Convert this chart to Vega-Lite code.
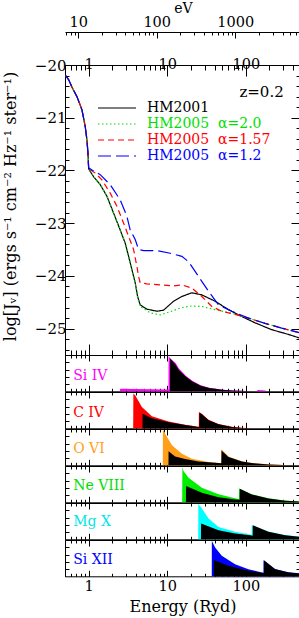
{
"$schema":"https://vega.github.io/schema/vega-lite/v6.json",
"padding":{"left":1,"right":1,"top":1,"bottom":1},
"background":"white",
"config":{
 "font":"DejaVu Serif",
 "view":{"stroke":"black","strokeWidth":1},
 "axis":{"grid":false,"domain":false,"tickColor":"black","tickWidth":1,"labelColor":"black","titleColor":"black","labelFont":"DejaVu Serif","titleFont":"DejaVu Serif","labelFontSize":14.5,"titleFontWeight":"normal","labelOverlap":false,"labelFlush":false}
},
"datasets":{
 "spectra":[
  {"s":"HM2001","E":0.504,"J":-20.19},{"s":"HM2001","E":0.557,"J":-20.28},{"s":"HM2001","E":0.613,"J":-20.42},{"s":"HM2001","E":0.71,"J":-20.6},{"s":"HM2001","E":0.822,"J":-20.85},{"s":"HM2001","E":0.905,"J":-21.17},{"s":"HM2001","E":0.951,"J":-21.42},{"s":"HM2001","E":0.98,"J":-21.67},
  {"s":"HM2001","E":1.0,"J":-21.97},{"s":"HM2001","E":1.158,"J":-22.12},{"s":"HM2001","E":1.405,"J":-22.27},{"s":"HM2001","E":1.709,"J":-22.49},{"s":"HM2001","E":2.079,"J":-22.81},{"s":"HM2001","E":2.522,"J":-23.13},{"s":"HM2001","E":2.92,"J":-23.38},{"s":"HM2001","E":3.226,"J":-23.63},{"s":"HM2001","E":3.552,"J":-23.88},{"s":"HM2001","E":3.913,"J":-24.13},{"s":"HM2001","E":4.198,"J":-24.39},{"s":"HM2001","E":4.53,"J":-24.55},{"s":"HM2001","E":5.512,"J":-24.63},{"s":"HM2001","E":7.386,"J":-24.67},{"s":"HM2001","E":8.987,"J":-24.65},{"s":"HM2001","E":12.04,"J":-24.48},{"s":"HM2001","E":15.36,"J":-24.39},{"s":"HM2001","E":20.58,"J":-24.32},{"s":"HM2001","E":27.57,"J":-24.36},{"s":"HM2001","E":40.71,"J":-24.48},{"s":"HM2001","E":60.26,"J":-24.64},{"s":"HM2001","E":88.92,"J":-24.77},{"s":"HM2001","E":131.3,"J":-24.89},{"s":"HM2001","E":214.1,"J":-25.02},{"s":"HM2001","E":349.2,"J":-25.11},{"s":"HM2001","E":490,"J":-25.18},
  {"s":"HM2005\u00a0 α=2.0","E":0.504,"J":-20.19},{"s":"HM2005\u00a0 α=2.0","E":0.557,"J":-20.28},{"s":"HM2005\u00a0 α=2.0","E":0.613,"J":-20.42},{"s":"HM2005\u00a0 α=2.0","E":0.71,"J":-20.6},{"s":"HM2005\u00a0 α=2.0","E":0.822,"J":-20.85},{"s":"HM2005\u00a0 α=2.0","E":0.905,"J":-21.17},{"s":"HM2005\u00a0 α=2.0","E":0.951,"J":-21.42},{"s":"HM2005\u00a0 α=2.0","E":0.98,"J":-21.67},
  {"s":"HM2005\u00a0 α=2.0","E":1.0,"J":-21.97},{"s":"HM2005\u00a0 α=2.0","E":1.158,"J":-22.12},{"s":"HM2005\u00a0 α=2.0","E":1.405,"J":-22.27},{"s":"HM2005\u00a0 α=2.0","E":1.709,"J":-22.49},{"s":"HM2005\u00a0 α=2.0","E":2.079,"J":-22.81},{"s":"HM2005\u00a0 α=2.0","E":2.522,"J":-23.13},{"s":"HM2005\u00a0 α=2.0","E":2.92,"J":-23.38},{"s":"HM2005\u00a0 α=2.0","E":3.226,"J":-23.63},{"s":"HM2005\u00a0 α=2.0","E":3.552,"J":-23.88},{"s":"HM2005\u00a0 α=2.0","E":3.913,"J":-24.13},{"s":"HM2005\u00a0 α=2.0","E":4.198,"J":-24.4},{"s":"HM2005\u00a0 α=2.0","E":4.53,"J":-24.58},{"s":"HM2005\u00a0 α=2.0","E":6.07,"J":-24.7},{"s":"HM2005\u00a0 α=2.0","E":8.137,"J":-24.74},{"s":"HM2005\u00a0 α=2.0","E":10.9,"J":-24.68},{"s":"HM2005\u00a0 α=2.0","E":15.36,"J":-24.6},{"s":"HM2005\u00a0 α=2.0","E":20.58,"J":-24.57},{"s":"HM2005\u00a0 α=2.0","E":27.57,"J":-24.58},{"s":"HM2005\u00a0 α=2.0","E":40.71,"J":-24.64},{"s":"HM2005\u00a0 α=2.0","E":66.37,"J":-24.71},{"s":"HM2005\u00a0 α=2.0","E":108.2,"J":-24.8},{"s":"HM2005\u00a0 α=2.0","E":175.9,"J":-24.9},{"s":"HM2005\u00a0 α=2.0","E":286.9,"J":-24.99},{"s":"HM2005\u00a0 α=2.0","E":490,"J":-25.08},
  {"s":"HM2005\u00a0 α=1.57","E":0.504,"J":-20.19},{"s":"HM2005\u00a0 α=1.57","E":0.557,"J":-20.28},{"s":"HM2005\u00a0 α=1.57","E":0.613,"J":-20.42},{"s":"HM2005\u00a0 α=1.57","E":0.71,"J":-20.6},{"s":"HM2005\u00a0 α=1.57","E":0.822,"J":-20.85},{"s":"HM2005\u00a0 α=1.57","E":0.905,"J":-21.17},{"s":"HM2005\u00a0 α=1.57","E":0.951,"J":-21.42},{"s":"HM2005\u00a0 α=1.57","E":0.98,"J":-21.67},
  {"s":"HM2005\u00a0 α=1.57","E":1.0,"J":-21.96},{"s":"HM2005\u00a0 α=1.57","E":1.213,"J":-22.05},{"s":"HM2005\u00a0 α=1.57","E":1.476,"J":-22.18},{"s":"HM2005\u00a0 α=1.57","E":1.882,"J":-22.43},{"s":"HM2005\u00a0 α=1.57","E":2.29,"J":-22.68},{"s":"HM2005\u00a0 α=1.57","E":2.786,"J":-23.0},{"s":"HM2005\u00a0 α=1.57","E":3.226,"J":-23.25},{"s":"HM2005\u00a0 α=1.57","E":3.734,"J":-23.5},{"s":"HM2005\u00a0 α=1.57","E":4.113,"J":-23.82},{"s":"HM2005\u00a0 α=1.57","E":4.323,"J":-24.01},{"s":"HM2005\u00a0 α=1.57","E":4.53,"J":-24.13},{"s":"HM2005\u00a0 α=1.57","E":5.512,"J":-24.15},{"s":"HM2005\u00a0 α=1.57","E":8.137,"J":-24.17},{"s":"HM2005\u00a0 α=1.57","E":12.04,"J":-24.19},{"s":"HM2005\u00a0 α=1.57","E":15.36,"J":-24.17},{"s":"HM2005\u00a0 α=1.57","E":20.58,"J":-24.23},{"s":"HM2005\u00a0 α=1.57","E":27.57,"J":-24.39},{"s":"HM2005\u00a0 α=1.57","E":36.96,"J":-24.58},{"s":"HM2005\u00a0 α=1.57","E":49.53,"J":-24.67},{"s":"HM2005\u00a0 α=1.57","E":73.11,"J":-24.73},{"s":"HM2005\u00a0 α=1.57","E":108.2,"J":-24.8},{"s":"HM2005\u00a0 α=1.57","E":175.9,"J":-24.9},{"s":"HM2005\u00a0 α=1.57","E":286.9,"J":-24.99},{"s":"HM2005\u00a0 α=1.57","E":490,"J":-25.08},
  {"s":"HM2005\u00a0 α=1.2","E":0.504,"J":-20.19},{"s":"HM2005\u00a0 α=1.2","E":0.557,"J":-20.28},{"s":"HM2005\u00a0 α=1.2","E":0.613,"J":-20.42},{"s":"HM2005\u00a0 α=1.2","E":0.71,"J":-20.6},{"s":"HM2005\u00a0 α=1.2","E":0.822,"J":-20.85},{"s":"HM2005\u00a0 α=1.2","E":0.905,"J":-21.17},{"s":"HM2005\u00a0 α=1.2","E":0.951,"J":-21.42},{"s":"HM2005\u00a0 α=1.2","E":0.98,"J":-21.67},
  {"s":"HM2005\u00a0 α=1.2","E":1.0,"J":-21.95},{"s":"HM2005\u00a0 α=1.2","E":1.1,"J":-21.99},{"s":"HM2005\u00a0 α=1.2","E":1.405,"J":-22.08},{"s":"HM2005\u00a0 α=1.2","E":1.882,"J":-22.27},{"s":"HM2005\u00a0 α=1.2","E":2.522,"J":-22.56},{"s":"HM2005\u00a0 α=1.2","E":3.069,"J":-22.87},{"s":"HM2005\u00a0 α=1.2","E":3.381,"J":-23.13},{"s":"HM2005\u00a0 α=1.2","E":3.913,"J":-23.31},{"s":"HM2005\u00a0 α=1.2","E":4.323,"J":-23.5},{"s":"HM2005\u00a0 α=1.2","E":5.004,"J":-23.52},{"s":"HM2005\u00a0 α=1.2","E":7.386,"J":-23.52},{"s":"HM2005\u00a0 α=1.2","E":10.9,"J":-23.57},{"s":"HM2005\u00a0 α=1.2","E":15.36,"J":-23.63},{"s":"HM2005\u00a0 α=1.2","E":18.68,"J":-23.73},{"s":"HM2005\u00a0 α=1.2","E":25.03,"J":-24.01},{"s":"HM2005\u00a0 α=1.2","E":33.56,"J":-24.29},{"s":"HM2005\u00a0 α=1.2","E":44.98,"J":-24.55},{"s":"HM2005\u00a0 α=1.2","E":66.37,"J":-24.67},{"s":"HM2005\u00a0 α=1.2","E":108.2,"J":-24.8},{"s":"HM2005\u00a0 α=1.2","E":175.9,"J":-24.9},{"s":"HM2005\u00a0 α=1.2","E":286.9,"J":-24.99},{"s":"HM2005\u00a0 α=1.2","E":490,"J":-25.08}
 ],
 "panels":[
  {"p":"Si IV","k":"c","E":2.5,"v":0},{"p":"Si IV","k":"c","E":2.52,"v":0.07},{"p":"Si IV","k":"c","E":10.38,"v":0.05},{"p":"Si IV","k":"c","E":10.42,"v":0.97},{"p":"Si IV","k":"c","E":11.0,"v":0.9},{"p":"Si IV","k":"c","E":12.8,"v":0.78},{"p":"Si IV","k":"c","E":14.1,"v":0.63},{"p":"Si IV","k":"c","E":17.2,"v":0.43},{"p":"Si IV","k":"c","E":20.9,"v":0.29},{"p":"Si IV","k":"c","E":26.7,"v":0.17},{"p":"Si IV","k":"c","E":34.2,"v":0.1},{"p":"Si IV","k":"c","E":50.5,"v":0.045},{"p":"Si IV","k":"c","E":67.8,"v":0.025},{"p":"Si IV","k":"c","E":100,"v":0.008},{"p":"Si IV","k":"c","E":139,"v":0},{"p":"Si IV","k":"c","E":141,"v":0.035},{"p":"Si IV","k":"c","E":178,"v":0.025},{"p":"Si IV","k":"c","E":180,"v":0},
  {"p":"Si IV","k":"k","E":10.85,"v":0},{"p":"Si IV","k":"k","E":10.9,"v":0.91},{"p":"Si IV","k":"k","E":12.8,"v":0.73},{"p":"Si IV","k":"k","E":14.1,"v":0.59},{"p":"Si IV","k":"k","E":17.2,"v":0.41},{"p":"Si IV","k":"k","E":20.9,"v":0.27},{"p":"Si IV","k":"k","E":26.7,"v":0.155},{"p":"Si IV","k":"k","E":34.2,"v":0.093},{"p":"Si IV","k":"k","E":50.5,"v":0.04},{"p":"Si IV","k":"k","E":67.8,"v":0.02},{"p":"Si IV","k":"k","E":100,"v":0.005},{"p":"Si IV","k":"k","E":150,"v":0},
  {"p":"C IV","k":"c","E":3.69,"v":0},{"p":"C IV","k":"c","E":3.71,"v":0.96},{"p":"C IV","k":"c","E":3.91,"v":0.91},{"p":"C IV","k":"c","E":4.76,"v":0.59},{"p":"C IV","k":"c","E":6.38,"v":0.33},{"p":"C IV","k":"c","E":10.4,"v":0.19},{"p":"C IV","k":"c","E":16.9,"v":0.1},{"p":"C IV","k":"c","E":25.2,"v":0.04},{"p":"C IV","k":"c","E":25.3,"v":0.45},{"p":"C IV","k":"c","E":27.6,"v":0.4},{"p":"C IV","k":"c","E":33.6,"v":0.235},{"p":"C IV","k":"c","E":45,"v":0.12},{"p":"C IV","k":"c","E":66.4,"v":0.04},{"p":"C IV","k":"c","E":89,"v":0.013},{"p":"C IV","k":"c","E":120,"v":0.003},{"p":"C IV","k":"c","E":150,"v":0},
  {"p":"C IV","k":"k","E":4.84,"v":0},{"p":"C IV","k":"k","E":4.86,"v":0.4},{"p":"C IV","k":"k","E":6.38,"v":0.275},{"p":"C IV","k":"k","E":10.4,"v":0.17},{"p":"C IV","k":"k","E":16.9,"v":0.09},{"p":"C IV","k":"k","E":25.6,"v":0.03},{"p":"C IV","k":"k","E":25.7,"v":0.43},{"p":"C IV","k":"k","E":27.6,"v":0.386},{"p":"C IV","k":"k","E":33.6,"v":0.22},{"p":"C IV","k":"k","E":45,"v":0.11},{"p":"C IV","k":"k","E":66.4,"v":0.036},{"p":"C IV","k":"k","E":89,"v":0.01},{"p":"C IV","k":"k","E":120,"v":0.002},{"p":"C IV","k":"k","E":150,"v":0},
  {"p":"O VI","k":"c","E":8.79,"v":0},{"p":"O VI","k":"c","E":8.81,"v":0.99},{"p":"O VI","k":"c","E":9.42,"v":0.87},{"p":"O VI","k":"c","E":11.5,"v":0.55},{"p":"O VI","k":"c","E":15.4,"v":0.32},{"p":"O VI","k":"c","E":20.6,"v":0.18},{"p":"O VI","k":"c","E":33.6,"v":0.09},{"p":"O VI","k":"c","E":48.6,"v":0.058},{"p":"O VI","k":"c","E":48.8,"v":0.44},{"p":"O VI","k":"c","E":60.3,"v":0.24},{"p":"O VI","k":"c","E":89,"v":0.115},{"p":"O VI","k":"c","E":119,"v":0.065},{"p":"O VI","k":"c","E":194,"v":0.028},{"p":"O VI","k":"c","E":300,"v":0.01},{"p":"O VI","k":"c","E":490,"v":0.003},
  {"p":"O VI","k":"k","E":10.38,"v":0},{"p":"O VI","k":"k","E":10.4,"v":0.39},{"p":"O VI","k":"k","E":12.6,"v":0.245},{"p":"O VI","k":"k","E":16.9,"v":0.175},{"p":"O VI","k":"k","E":25,"v":0.105},{"p":"O VI","k":"k","E":45,"v":0.06},{"p":"O VI","k":"k","E":48.9,"v":0.055},{"p":"O VI","k":"k","E":49.1,"v":0.41},{"p":"O VI","k":"k","E":60.3,"v":0.226},{"p":"O VI","k":"k","E":89,"v":0.107},{"p":"O VI","k":"k","E":119,"v":0.06},{"p":"O VI","k":"k","E":194,"v":0.025},{"p":"O VI","k":"k","E":300,"v":0.008},{"p":"O VI","k":"k","E":490,"v":0.002},
  {"p":"Ne VIII","k":"c","E":15.5,"v":0},{"p":"Ne VIII","k":"c","E":15.6,"v":0.98},{"p":"Ne VIII","k":"c","E":16.1,"v":0.86},{"p":"Ne VIII","k":"c","E":18.7,"v":0.675},{"p":"Ne VIII","k":"c","E":27.6,"v":0.4},{"p":"Ne VIII","k":"c","E":45,"v":0.22},{"p":"Ne VIII","k":"c","E":73.1,"v":0.11},{"p":"Ne VIII","k":"c","E":82.0,"v":0.09},{"p":"Ne VIII","k":"c","E":82.2,"v":0.38},{"p":"Ne VIII","k":"c","E":119,"v":0.22},{"p":"Ne VIII","k":"c","E":194,"v":0.11},{"p":"Ne VIII","k":"c","E":316,"v":0.05},{"p":"Ne VIII","k":"c","E":490,"v":0.02},
  {"p":"Ne VIII","k":"k","E":17.3,"v":0},{"p":"Ne VIII","k":"k","E":17.4,"v":0.45},{"p":"Ne VIII","k":"k","E":27.6,"v":0.26},{"p":"Ne VIII","k":"k","E":45,"v":0.14},{"p":"Ne VIII","k":"k","E":73.1,"v":0.08},{"p":"Ne VIII","k":"k","E":83.7,"v":0.07},{"p":"Ne VIII","k":"k","E":83.9,"v":0.37},{"p":"Ne VIII","k":"k","E":119,"v":0.215},{"p":"Ne VIII","k":"k","E":194,"v":0.105},{"p":"Ne VIII","k":"k","E":316,"v":0.045},{"p":"Ne VIII","k":"k","E":490,"v":0.018},
  {"p":"Mg X","k":"c","E":24.8,"v":0},{"p":"Mg X","k":"c","E":24.9,"v":0.98},{"p":"Mg X","k":"c","E":27.6,"v":0.85},{"p":"Mg X","k":"c","E":33.6,"v":0.57},{"p":"Mg X","k":"c","E":45,"v":0.34},{"p":"Mg X","k":"c","E":73.1,"v":0.21},{"p":"Mg X","k":"c","E":113.5,"v":0.13},{"p":"Mg X","k":"c","E":118.8,"v":0.125},{"p":"Mg X","k":"c","E":119,"v":0.39},{"p":"Mg X","k":"c","E":194,"v":0.215},{"p":"Mg X","k":"c","E":316,"v":0.12},{"p":"Mg X","k":"c","E":490,"v":0.075},
  {"p":"Mg X","k":"k","E":26.9,"v":0},{"p":"Mg X","k":"k","E":27.0,"v":0.435},{"p":"Mg X","k":"k","E":45,"v":0.25},{"p":"Mg X","k":"k","E":73.1,"v":0.16},{"p":"Mg X","k":"k","E":113.5,"v":0.115},{"p":"Mg X","k":"k","E":122.6,"v":0.1},{"p":"Mg X","k":"k","E":122.8,"v":0.39},{"p":"Mg X","k":"k","E":194,"v":0.21},{"p":"Mg X","k":"k","E":316,"v":0.115},{"p":"Mg X","k":"k","E":490,"v":0.07},
  {"p":"Si XII","k":"c","E":36.9,"v":0},{"p":"Si XII","k":"c","E":37.0,"v":0.98},{"p":"Si XII","k":"c","E":40.7,"v":0.79},{"p":"Si XII","k":"c","E":49.5,"v":0.565},{"p":"Si XII","k":"c","E":73.1,"v":0.33},{"p":"Si XII","k":"c","E":108,"v":0.196},{"p":"Si XII","k":"c","E":160,"v":0.105},{"p":"Si XII","k":"c","E":167.8,"v":0.1},{"p":"Si XII","k":"c","E":168,"v":0.44},{"p":"Si XII","k":"c","E":236,"v":0.2},{"p":"Si XII","k":"c","E":349,"v":0.11},{"p":"Si XII","k":"c","E":490,"v":0.08},
  {"p":"Si XII","k":"k","E":39.1,"v":0},{"p":"Si XII","k":"k","E":39.2,"v":0.45},{"p":"Si XII","k":"k","E":60.3,"v":0.29},{"p":"Si XII","k":"k","E":108,"v":0.15},{"p":"Si XII","k":"k","E":160,"v":0.095},{"p":"Si XII","k":"k","E":170.8,"v":0.09},{"p":"Si XII","k":"k","E":171,"v":0.44},{"p":"Si XII","k":"k","E":236,"v":0.196},{"p":"Si XII","k":"k","E":349,"v":0.105},{"p":"Si XII","k":"k","E":490,"v":0.077}
 ],
 "labels":[
  {"p":"Si IV","E":0.635,"v":0.32},{"p":"C IV","E":0.635,"v":0.31},{"p":"O VI","E":0.635,"v":0.33},{"p":"Ne VIII","E":0.635,"v":0.34},{"p":"Mg X","E":0.635,"v":0.38},{"p":"Si XII","E":0.635,"v":0.34}
 ]
},
"spacing":0,
"bounds":"flush",
"vconcat":[
 {
  "width":235,"height":33,
  "view":{"stroke":null},
  "data":{"values":[{"eV":100}]},
  "mark":{"type":"point","opacity":0},
  "encoding":{"x":{"field":"eV","type":"quantitative","scale":{"type":"log","domain":[6.8,6664],"nice":false},
   "axis":{"orient":"top","domain":true,"domainColor":"black","domainWidth":1,"values":[7,8,9,10,20,30,40,50,60,70,80,90,100,200,300,400,500,600,700,800,900,1000,2000,3000,4000,5000,6000],
    "labelExpr":"indexof([10,100,1000],datum.value)>=0 ? toString(datum.value) : ''",
    "tickSize":{"condition":{"test":"indexof([10,100,1000],datum.value)>=0","value":-6},"value":-3},
    "labelPadding":9,"title":"eV","titleFontSize":14,"titleFontWeight":"normal","titleX":118,"titleY":-20,"titleAlign":"center","titleBaseline":"alphabetic"}}}
 },
 {
  "width":235,"height":290,
  "layer":[
   {"data":{"name":"spectra"},
    "mark":{"type":"line","strokeWidth":1.2,"clip":true},
    "encoding":{
     "x":{"field":"E","type":"quantitative","scale":{"type":"log","domain":[0.5,490],"nice":false},
      "axis":{"orient":"bottom","values":[0.5,0.6,0.7,0.8,0.9,1,2,3,4,5,6,7,8,9,10,20,30,40,50,60,70,80,90,100,200,300,400],"labels":false,"title":null,
       "tickSize":{"condition":{"test":"indexof([1,10,100],datum.value)>=0","value":-11},"value":-5}}},
     "y":{"field":"J","type":"quantitative","scale":{"domain":[-25.5,-20],"nice":false,"zero":false},
      "axis":{"orient":"left","values":[-25.4,-25.2,-25,-24.8,-24.6,-24.4,-24.2,-24,-23.8,-23.6,-23.4,-23.2,-23,-22.8,-22.6,-22.4,-22.2,-22,-21.8,-21.6,-21.4,-21.2,-21,-20.8,-20.6,-20.4,-20.2,-20],
       "labelExpr":"datum.value == round(datum.value) ? '−' + toString(abs(datum.value)) : ''","labelFontSize":15,
       "tickSize":{"condition":{"test":"datum.value == round(datum.value)","value":-9},"value":-4},
       "labelPadding":8,"title":"log[Jᵥ] (ergs s⁻¹ cm⁻² Hz⁻¹ ster⁻¹)","titleFontSize":16,"titleFontWeight":"normal","titlePadding":16,"titleY":141}},
     "color":{"field":"s","type":"nominal","scale":{"domain":["HM2001","HM2005\u00a0 α=2.0","HM2005\u00a0 α=1.57","HM2005\u00a0 α=1.2"],"range":["#000000","#00e000","#ff0000","#0000ff"]},
      "legend":{"orient":"none","legendX":32,"legendY":68,"title":null,"symbolType":"stroke","symbolSize":1444,"symbolStrokeWidth":1.2,"labelFontSize":14,"labelOffset":10,"clipHeight":16,"rowPadding":0,"padding":0,
       "labelColor":{"expr":"indexof(datum.value,'2.0')>=0 ? '#00e000' : indexof(datum.value,'1.57')>=0 ? '#ff0000' : indexof(datum.value,'1.2')>=0 ? '#0000ff' : '#000000'"}}},
     "strokeDash":{"field":"s","type":"nominal","scale":{"domain":["HM2001","HM2005\u00a0 α=2.0","HM2005\u00a0 α=1.57","HM2005\u00a0 α=1.2"],"range":[[1,0],[1.5,2.5],[6,4],[13,5]]},
      "legend":{"orient":"none","legendX":32,"legendY":68,"title":null,"symbolType":"stroke","symbolSize":1444,"symbolStrokeWidth":1.2,"labelFontSize":14,"labelOffset":10,"clipHeight":16,"rowPadding":0,"padding":0,
       "labelColor":{"expr":"indexof(datum.value,'2.0')>=0 ? '#00e000' : indexof(datum.value,'1.57')>=0 ? '#ff0000' : indexof(datum.value,'1.2')>=0 ? '#0000ff' : '#000000'"}}}
    }},
   {"data":{"values":[{"E":304,"J":-20.61,"t":"z=0.2"}]},
    "mark":{"type":"text","align":"right","baseline":"alphabetic","fontSize":15,"color":"black"},
    "encoding":{
     "x":{"field":"E","type":"quantitative","scale":{"type":"log","domain":[0.5,490],"nice":false},
      "axis":{"orient":"top","values":[0.5,0.6,0.7,0.8,0.9,1,2,3,4,5,6,7,8,9,10,20,30,40,50,60,70,80,90,100,200,300,400],
       "labelExpr":"indexof([1,10,100],datum.value)>=0 ? toString(datum.value) : ''","title":null,"labelPadding":5,
       "tickSize":{"condition":{"test":"indexof([1,10,100],datum.value)>=0","value":-11},"value":-5}}},
     "y":{"field":"J","type":"quantitative","scale":{"domain":[-25.5,-20],"nice":false,"zero":false},
      "axis":{"orient":"right","values":[-25.4,-25.2,-25,-24.8,-24.6,-24.4,-24.2,-24,-23.8,-23.6,-23.4,-23.2,-23,-22.8,-22.6,-22.4,-22.2,-22,-21.8,-21.6,-21.4,-21.2,-21,-20.8,-20.6,-20.4,-20.2,-20],"labels":false,"title":null,
       "tickSize":{"condition":{"test":"datum.value == round(datum.value)","value":-9},"value":-4}}},
     "text":{"field":"t"}
    }}
  ],
  "resolve":{"axis":{"x":"independent","y":"independent"}}
 },
 {
  "width":235,"height":36.3,
  "layer":[
   {"data":{"name":"panels"},"transform":[{"filter":"datum.p=='Si IV' && datum.k=='c'"}],"mark":{"type":"area","color":"#ff00ff"},
    "encoding":{"x":{"field":"E","type":"quantitative","scale":{"type":"log","domain":[0.5,490],"nice":false},"axis":{"orient":"bottom","values":[0.5,0.6,0.7,0.8,0.9,1,2,3,4,5,6,7,8,9,10,20,30,40,50,60,70,80,90,100,200,300,400],"labels":false,"title":null,"tickSize":{"condition":{"test":"indexof([1,10,100],datum.value)>=0","value":-6},"value":-3}}},
     "y":{"field":"v","type":"quantitative","scale":{"domain":[0,1],"nice":false},"axis":{"orient":"left","values":[0.2,0.4,0.6,0.8],"labels":false,"title":null,"tickSize":-4}}}},
   {"data":{"name":"panels"},"transform":[{"filter":"datum.p=='Si IV' && datum.k=='k'"}],"mark":{"type":"area","color":"#000000"},
    "encoding":{"x":{"field":"E","type":"quantitative","scale":{"type":"log","domain":[0.5,490],"nice":false},"axis":{"orient":"top","values":[0.5,0.6,0.7,0.8,0.9,1,2,3,4,5,6,7,8,9,10,20,30,40,50,60,70,80,90,100,200,300,400],"labels":false,"title":null,"tickSize":{"condition":{"test":"indexof([1,10,100],datum.value)>=0","value":-6},"value":-3}}},
     "y":{"field":"v","type":"quantitative","scale":{"domain":[0,1],"nice":false},"axis":{"orient":"right","values":[0.2,0.4,0.6,0.8],"labels":false,"title":null,"tickSize":-4}}}},
   {"data":{"name":"labels"},"transform":[{"filter":"datum.p=='Si IV'"}],"mark":{"type":"text","align":"left","baseline":"alphabetic","fontSize":14,"color":"#ff00ff"},
    "encoding":{"x":{"field":"E","type":"quantitative","scale":{"type":"log","domain":[0.5,490],"nice":false},"axis":null},"y":{"field":"v","type":"quantitative","scale":{"domain":[0,1],"nice":false},"axis":null},"text":{"field":"p"}}}
  ],
  "resolve":{"axis":{"x":"independent","y":"independent"}}
 },
 {
  "width":235,"height":36.3,
  "layer":[
   {"data":{"name":"panels"},"transform":[{"filter":"datum.p=='C IV' && datum.k=='c'"}],"mark":{"type":"area","color":"#ff0000"},
    "encoding":{"x":{"field":"E","type":"quantitative","scale":{"type":"log","domain":[0.5,490],"nice":false},"axis":{"orient":"bottom","values":[0.5,0.6,0.7,0.8,0.9,1,2,3,4,5,6,7,8,9,10,20,30,40,50,60,70,80,90,100,200,300,400],"labels":false,"title":null,"tickSize":{"condition":{"test":"indexof([1,10,100],datum.value)>=0","value":-6},"value":-3}}},
     "y":{"field":"v","type":"quantitative","scale":{"domain":[0,1],"nice":false},"axis":{"orient":"left","values":[0.2,0.4,0.6,0.8],"labels":false,"title":null,"tickSize":-4}}}},
   {"data":{"name":"panels"},"transform":[{"filter":"datum.p=='C IV' && datum.k=='k'"}],"mark":{"type":"area","color":"#000000"},
    "encoding":{"x":{"field":"E","type":"quantitative","scale":{"type":"log","domain":[0.5,490],"nice":false},"axis":{"orient":"top","values":[0.5,0.6,0.7,0.8,0.9,1,2,3,4,5,6,7,8,9,10,20,30,40,50,60,70,80,90,100,200,300,400],"labels":false,"title":null,"tickSize":{"condition":{"test":"indexof([1,10,100],datum.value)>=0","value":-6},"value":-3}}},
     "y":{"field":"v","type":"quantitative","scale":{"domain":[0,1],"nice":false},"axis":{"orient":"right","values":[0.2,0.4,0.6,0.8],"labels":false,"title":null,"tickSize":-4}}}},
   {"data":{"name":"labels"},"transform":[{"filter":"datum.p=='C IV'"}],"mark":{"type":"text","align":"left","baseline":"alphabetic","fontSize":14,"color":"#ff0000"},
    "encoding":{"x":{"field":"E","type":"quantitative","scale":{"type":"log","domain":[0.5,490],"nice":false},"axis":null},"y":{"field":"v","type":"quantitative","scale":{"domain":[0,1],"nice":false},"axis":null},"text":{"field":"p"}}}
  ],
  "resolve":{"axis":{"x":"independent","y":"independent"}}
 },
 {
  "width":235,"height":36.3,
  "layer":[
   {"data":{"name":"panels"},"transform":[{"filter":"datum.p=='O VI' && datum.k=='c'"}],"mark":{"type":"area","color":"#ff9f1a"},
    "encoding":{"x":{"field":"E","type":"quantitative","scale":{"type":"log","domain":[0.5,490],"nice":false},"axis":{"orient":"bottom","values":[0.5,0.6,0.7,0.8,0.9,1,2,3,4,5,6,7,8,9,10,20,30,40,50,60,70,80,90,100,200,300,400],"labels":false,"title":null,"tickSize":{"condition":{"test":"indexof([1,10,100],datum.value)>=0","value":-6},"value":-3}}},
     "y":{"field":"v","type":"quantitative","scale":{"domain":[0,1],"nice":false},"axis":{"orient":"left","values":[0.2,0.4,0.6,0.8],"labels":false,"title":null,"tickSize":-4}}}},
   {"data":{"name":"panels"},"transform":[{"filter":"datum.p=='O VI' && datum.k=='k'"}],"mark":{"type":"area","color":"#000000"},
    "encoding":{"x":{"field":"E","type":"quantitative","scale":{"type":"log","domain":[0.5,490],"nice":false},"axis":{"orient":"top","values":[0.5,0.6,0.7,0.8,0.9,1,2,3,4,5,6,7,8,9,10,20,30,40,50,60,70,80,90,100,200,300,400],"labels":false,"title":null,"tickSize":{"condition":{"test":"indexof([1,10,100],datum.value)>=0","value":-6},"value":-3}}},
     "y":{"field":"v","type":"quantitative","scale":{"domain":[0,1],"nice":false},"axis":{"orient":"right","values":[0.2,0.4,0.6,0.8],"labels":false,"title":null,"tickSize":-4}}}},
   {"data":{"name":"labels"},"transform":[{"filter":"datum.p=='O VI'"}],"mark":{"type":"text","align":"left","baseline":"alphabetic","fontSize":14,"color":"#ff9f1a"},
    "encoding":{"x":{"field":"E","type":"quantitative","scale":{"type":"log","domain":[0.5,490],"nice":false},"axis":null},"y":{"field":"v","type":"quantitative","scale":{"domain":[0,1],"nice":false},"axis":null},"text":{"field":"p"}}}
  ],
  "resolve":{"axis":{"x":"independent","y":"independent"}}
 },
 {
  "width":235,"height":36.3,
  "layer":[
   {"data":{"name":"panels"},"transform":[{"filter":"datum.p=='Ne VIII' && datum.k=='c'"}],"mark":{"type":"area","color":"#00ee00"},
    "encoding":{"x":{"field":"E","type":"quantitative","scale":{"type":"log","domain":[0.5,490],"nice":false},"axis":{"orient":"bottom","values":[0.5,0.6,0.7,0.8,0.9,1,2,3,4,5,6,7,8,9,10,20,30,40,50,60,70,80,90,100,200,300,400],"labels":false,"title":null,"tickSize":{"condition":{"test":"indexof([1,10,100],datum.value)>=0","value":-6},"value":-3}}},
     "y":{"field":"v","type":"quantitative","scale":{"domain":[0,1],"nice":false},"axis":{"orient":"left","values":[0.2,0.4,0.6,0.8],"labels":false,"title":null,"tickSize":-4}}}},
   {"data":{"name":"panels"},"transform":[{"filter":"datum.p=='Ne VIII' && datum.k=='k'"}],"mark":{"type":"area","color":"#000000"},
    "encoding":{"x":{"field":"E","type":"quantitative","scale":{"type":"log","domain":[0.5,490],"nice":false},"axis":{"orient":"top","values":[0.5,0.6,0.7,0.8,0.9,1,2,3,4,5,6,7,8,9,10,20,30,40,50,60,70,80,90,100,200,300,400],"labels":false,"title":null,"tickSize":{"condition":{"test":"indexof([1,10,100],datum.value)>=0","value":-6},"value":-3}}},
     "y":{"field":"v","type":"quantitative","scale":{"domain":[0,1],"nice":false},"axis":{"orient":"right","values":[0.2,0.4,0.6,0.8],"labels":false,"title":null,"tickSize":-4}}}},
   {"data":{"name":"labels"},"transform":[{"filter":"datum.p=='Ne VIII'"}],"mark":{"type":"text","align":"left","baseline":"alphabetic","fontSize":14,"color":"#00dd00"},
    "encoding":{"x":{"field":"E","type":"quantitative","scale":{"type":"log","domain":[0.5,490],"nice":false},"axis":null},"y":{"field":"v","type":"quantitative","scale":{"domain":[0,1],"nice":false},"axis":null},"text":{"field":"p"}}}
  ],
  "resolve":{"axis":{"x":"independent","y":"independent"}}
 },
 {
  "width":235,"height":36.3,
  "layer":[
   {"data":{"name":"panels"},"transform":[{"filter":"datum.p=='Mg X' && datum.k=='c'"}],"mark":{"type":"area","color":"#00ffff"},
    "encoding":{"x":{"field":"E","type":"quantitative","scale":{"type":"log","domain":[0.5,490],"nice":false},"axis":{"orient":"bottom","values":[0.5,0.6,0.7,0.8,0.9,1,2,3,4,5,6,7,8,9,10,20,30,40,50,60,70,80,90,100,200,300,400],"labels":false,"title":null,"tickSize":{"condition":{"test":"indexof([1,10,100],datum.value)>=0","value":-6},"value":-3}}},
     "y":{"field":"v","type":"quantitative","scale":{"domain":[0,1],"nice":false},"axis":{"orient":"left","values":[0.2,0.4,0.6,0.8],"labels":false,"title":null,"tickSize":-4}}}},
   {"data":{"name":"panels"},"transform":[{"filter":"datum.p=='Mg X' && datum.k=='k'"}],"mark":{"type":"area","color":"#000000"},
    "encoding":{"x":{"field":"E","type":"quantitative","scale":{"type":"log","domain":[0.5,490],"nice":false},"axis":{"orient":"top","values":[0.5,0.6,0.7,0.8,0.9,1,2,3,4,5,6,7,8,9,10,20,30,40,50,60,70,80,90,100,200,300,400],"labels":false,"title":null,"tickSize":{"condition":{"test":"indexof([1,10,100],datum.value)>=0","value":-6},"value":-3}}},
     "y":{"field":"v","type":"quantitative","scale":{"domain":[0,1],"nice":false},"axis":{"orient":"right","values":[0.2,0.4,0.6,0.8],"labels":false,"title":null,"tickSize":-4}}}},
   {"data":{"name":"labels"},"transform":[{"filter":"datum.p=='Mg X'"}],"mark":{"type":"text","align":"left","baseline":"alphabetic","fontSize":14,"color":"#00e5e5"},
    "encoding":{"x":{"field":"E","type":"quantitative","scale":{"type":"log","domain":[0.5,490],"nice":false},"axis":null},"y":{"field":"v","type":"quantitative","scale":{"domain":[0,1],"nice":false},"axis":null},"text":{"field":"p"}}}
  ],
  "resolve":{"axis":{"x":"independent","y":"independent"}}
 },
 {
  "width":235,"height":36.3,
  "layer":[
   {"data":{"name":"panels"},"transform":[{"filter":"datum.p=='Si XII' && datum.k=='c'"}],"mark":{"type":"area","color":"#0000ff"},
    "encoding":{"x":{"field":"E","type":"quantitative","scale":{"type":"log","domain":[0.5,490],"nice":false},"axis":{"orient":"bottom","values":[0.5,0.6,0.7,0.8,0.9,1,2,3,4,5,6,7,8,9,10,20,30,40,50,60,70,80,90,100,200,300,400],
      "labelExpr":"indexof([1,10,100],datum.value)>=0 ? toString(datum.value) : ''","labelPadding":9,"title":"Energy (Ryd)","titleFontSize":16,"titleFontWeight":"normal","titlePadding":3,
      "tickSize":{"condition":{"test":"indexof([1,10,100],datum.value)>=0","value":-6},"value":-3}}},
     "y":{"field":"v","type":"quantitative","scale":{"domain":[0,1],"nice":false},"axis":{"orient":"left","values":[0.2,0.4,0.6,0.8],"labels":false,"title":null,"tickSize":-4}}}},
   {"data":{"name":"panels"},"transform":[{"filter":"datum.p=='Si XII' && datum.k=='k'"}],"mark":{"type":"area","color":"#000000"},
    "encoding":{"x":{"field":"E","type":"quantitative","scale":{"type":"log","domain":[0.5,490],"nice":false},"axis":{"orient":"top","values":[0.5,0.6,0.7,0.8,0.9,1,2,3,4,5,6,7,8,9,10,20,30,40,50,60,70,80,90,100,200,300,400],"labels":false,"title":null,"tickSize":{"condition":{"test":"indexof([1,10,100],datum.value)>=0","value":-6},"value":-3}}},
     "y":{"field":"v","type":"quantitative","scale":{"domain":[0,1],"nice":false},"axis":{"orient":"right","values":[0.2,0.4,0.6,0.8],"labels":false,"title":null,"tickSize":-4}}}},
   {"data":{"name":"labels"},"transform":[{"filter":"datum.p=='Si XII'"}],"mark":{"type":"text","align":"left","baseline":"alphabetic","fontSize":14,"color":"#0000ff"},
    "encoding":{"x":{"field":"E","type":"quantitative","scale":{"type":"log","domain":[0.5,490],"nice":false},"axis":null},"y":{"field":"v","type":"quantitative","scale":{"domain":[0,1],"nice":false},"axis":null},"text":{"field":"p"}}}
  ],
  "resolve":{"axis":{"x":"independent","y":"independent"}}
 }
]
}
